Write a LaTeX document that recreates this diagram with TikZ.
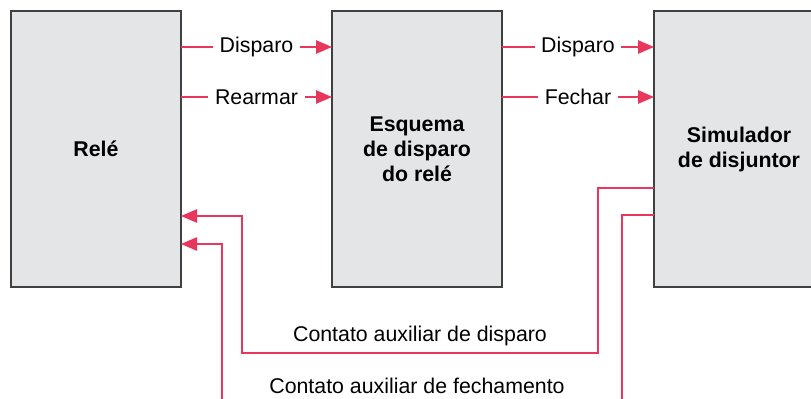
\documentclass[tikz,border=0pt]{standalone}
\usepackage{fontspec}
\setmainfont{Liberation Sans}
\usetikzlibrary{positioning,arrows.meta}

\definecolor{sinal}{HTML}{E8365D}
\definecolor{caixa}{HTML}{E4E5E7}

\begin{document}
\begin{tikzpicture}[x=0.75pt,y=-0.75pt,
  font=\fontsize{16}{18.75}\selectfont,
  bloco/.style={draw=black!75, line width=1pt, fill=caixa, minimum width=127.5pt,
    minimum height=207pt, inner sep=0pt, align=center, font=\fontsize{16}{18.75}\selectfont\bfseries},
  sinal/.style={draw=sinal, line width=1.2pt},
  seta/.style={sinal, -{Triangle[length=12pt,width=10pt]}},
  rotulo/.style={fill=white, inner sep=5pt, text=black}]
\clip (0,0) rectangle (811,399);

\def\xa{96}
\def\xb{417}
\def\xc{739}
\def\ym{149}

\def\ya{47}
\def\yb{97}
\def\yc{188}
\def\yd{215}
\def\ye{216}
\def\yf{244}
\def\yg{353}

\node[bloco](rele) at (\xa, \ym) {Relé};
\node[bloco](esquema) at (\xb, \ym) {Esquema\\de disparo\\do relé};
\node[bloco](simulador) at (\xc, \ym) {Simulador\\de disjuntor};

% disparo / rearmar
\coordinate(r1) at (181, \ya);
\coordinate(r2) at (181, \yb);
\coordinate(e1) at (332, \ya);
\coordinate(e2) at (332, \yb);
\coordinate(e3) at (502, \ya);
\coordinate(e4) at (502, \yb);
\coordinate(s1) at (654, \ya);
\coordinate(s2) at (654, \yb);
\draw[seta] (r1) -- node[rotulo] {Disparo} (e1);
\draw[seta] (r2) -- node[rotulo] {Rearmar} (e2);
\draw[seta] (e3) -- node[rotulo] {Disparo} (s1);
\draw[seta] (e4) -- node[rotulo] {Fechar} (s2);

% contato auxiliar de disparo
\coordinate(s3) at (654, \yc);
\coordinate(c1) at (598, \yc);
\coordinate(c2) at (598, \yg);
\coordinate(c3) at (242, \yg);
\coordinate(c4) at (242, \ye);
\coordinate(r3) at (181, \ye);
\draw[seta] (s3) -- (c1) -- (c2) -- node[above, text=black, inner sep=5pt] {Contato auxiliar de disparo} (c3) -- (c4) -- (r3);

% contato auxiliar de fechamento
\coordinate(s4) at (654, \yd);
\coordinate(f1) at (622, \yd);
\coordinate(f2) at (622, 410);
\coordinate(f3) at (222, 410);
\coordinate(f4) at (222, \yf);
\coordinate(r4) at (181, \yf);
\draw[sinal] (s4) -- (f1) -- (f2);
\draw[seta] (f3) -- (f4) -- (r4);
\node(fech) at (\xb, 386) {Contato auxiliar de fechamento};
\end{tikzpicture}
\end{document}
